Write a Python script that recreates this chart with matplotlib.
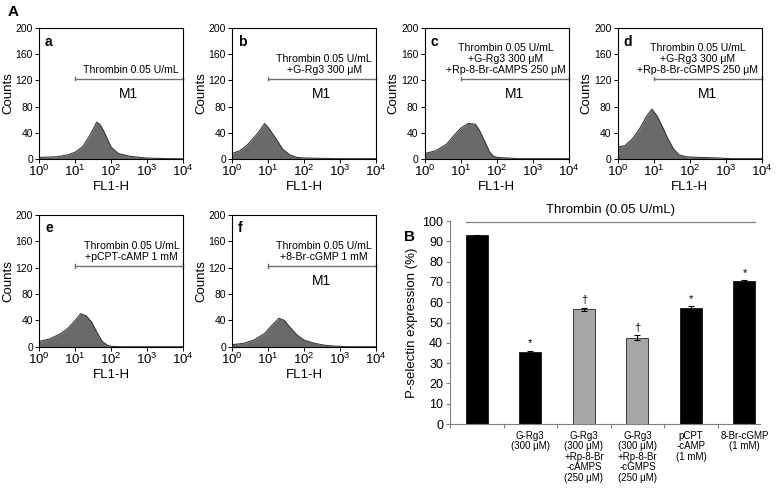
import numpy as np
import matplotlib
matplotlib.use("Agg")
import matplotlib.pyplot as plt
from matplotlib.ticker import FixedLocator, NullLocator, NullFormatter

plt.rcParams['font.family'] = ['Liberation Sans', 'DejaVu Sans']
plt.rcParams['mathtext.fontset'] = 'custom'
plt.rcParams['mathtext.rm'] = 'Liberation Sans'

# histogram readings: log10(FL1-H) positions and counts per panel
hist_a_x = [0, 0.3, 0.5, 0.8, 1.0, 1.2, 1.3, 1.4, 1.5, 1.6, 1.7, 1.8, 1.9, 2.0, 2.2, 2.5, 2.8, 3.0, 3.3, 3.6, 4.0]
hist_a_y = [2, 2.5, 3, 6, 10, 18, 26, 35, 45, 56, 52, 42, 30, 18, 8, 4, 2, 1, 0.5, 0, 0]
hist_b_x = [0, 0.2, 0.4, 0.6, 0.75, 0.9, 1.0, 1.1, 1.25, 1.4, 1.6, 1.8, 2.0, 2.5, 3.0, 4.0]
hist_b_y = [8, 12, 20, 32, 42, 54, 48, 40, 28, 15, 6, 2, 1, 0.5, 0, 0]
hist_c_x = [0, 0.3, 0.6, 0.8, 1.0, 1.2, 1.4, 1.5, 1.65, 1.8, 1.9, 2.0, 2.3, 2.6, 4.0]
hist_c_y = [8, 12, 22, 35, 47, 54, 53, 45, 28, 10, 4, 2, 1, 0, 0]
hist_d_x = [0, 0.2, 0.4, 0.6, 0.8, 0.95, 1.1, 1.25, 1.4, 1.55, 1.7, 1.9, 2.2, 2.6, 3.0, 3.2, 4.0]
hist_d_y = [18, 20, 30, 45, 65, 76, 65, 48, 30, 15, 6, 3, 2, 1.5, 0.5, 0, 0]
hist_e_x = [0, 0.3, 0.6, 0.8, 1.0, 1.15, 1.3, 1.45, 1.6, 1.75, 1.9, 2.0, 2.3, 4.0]
hist_e_y = [8, 12, 20, 28, 40, 50, 47, 38, 22, 8, 2, 0.5, 0, 0]
hist_f_x = [0, 0.3, 0.6, 0.9, 1.1, 1.3, 1.45, 1.6, 1.8, 2.0, 2.3, 2.6, 3.0, 3.2, 4.0]
hist_f_y = [3, 5, 10, 20, 32, 43, 40, 30, 18, 10, 5, 2, 0.5, 0, 0]

panel_letters = ['a', 'b', 'c', 'd', 'e', 'f']
panel_texts = [
    "Thrombin 0.05 U/mL",
    "Thrombin 0.05 U/mL\n+G-Rg3 300 μM",
    "Thrombin 0.05 U/mL\n+G-Rg3 300 μM\n+Rp-8-Br-cAMPS 250 μM",
    "Thrombin 0.05 U/mL\n+G-Rg3 300 μM\n+Rp-8-Br-cGMPS 250 μM",
    "Thrombin 0.05 U/mL\n+pCPT-cAMP 1 mM",
    "Thrombin 0.05 U/mL\n+8-Br-cGMP 1 mM",
]
show_m1 = [True, True, True, True, False, True]

# bar chart data
bar_values = [93.0, 35.5, 56.5, 42.5, 57.0, 70.3]
bar_errors = [0.3, 0.7, 0.7, 1.3, 1.0, 0.6]
bar_colors = ['black', 'black', '#a6a6a6', '#a6a6a6', 'black', 'black']
bar_marks = ['', '*', '†', '†', '*', '*']
bar_labels = ['', 'G-Rg3\n(300 μM)', 'G-Rg3\n(300 μM)\n+Rp-8-Br\n-cAMPS\n(250 μM)',
              'G-Rg3\n(300 μM)\n+Rp-8-Br\n-cGMPS\n(250 μM)', 'pCPT\n-cAMP\n(1 mM)', '8-Br-cGMP\n(1 mM)']

fig = plt.figure(figsize=(7.78, 4.9), dpi=100)

W = 778.0
H = 490.0

def fig_rect(left, top, right, bottom):
    return [left / W, 1 - bottom / H, (right - left) / W, (bottom - top) / H]

hist_rects = [
    fig_rect(39.3, 28.3, 182.7, 158.7),
    fig_rect(232.3, 28.3, 375.7, 158.7),
    fig_rect(424.8, 28.3, 569.0, 158.7),
    fig_rect(617.7, 28.3, 761.7, 158.7),
    fig_rect(39.3, 214.9, 183.0, 346.7),
    fig_rect(232.3, 214.9, 375.7, 346.7),
]
hist_x = [hist_a_x, hist_b_x, hist_c_x, hist_d_x, hist_e_x, hist_f_x]
hist_y = [hist_a_y, hist_b_y, hist_c_y, hist_d_y, hist_e_y, hist_f_y]

for i, rect in enumerate(hist_rects):
    ax = fig.add_axes(rect)
    xs = 10 ** np.array(hist_x[i], dtype=float)
    ax.fill_between(xs, hist_y[i], 0, color='#6a6a6a', lw=0)
    ax.plot(xs, hist_y[i], color='#3a3a3a', lw=0.8)
    ax.set_xscale('log')
    ax.set_xlim(1, 1e4)
    ax.set_ylim(0, 200)
    ax.xaxis.set_major_locator(FixedLocator([1, 10, 100, 1000, 10000]))
    ax.xaxis.set_minor_locator(NullLocator())
    ax.xaxis.set_minor_formatter(NullFormatter())
    ax.set_yticks([0, 40, 80, 120, 160, 200])
    ax.tick_params(axis='x', direction='out', length=3, width=0.7, labelsize=9.5, pad=1)
    ax.tick_params(axis='y', direction='out', length=3, width=0.7, labelsize=7.5, pad=1.5)
    for s in ax.spines.values():
        s.set_linewidth(0.8)
    ax.set_xlabel('FL1-H', fontsize=9.5, labelpad=1)
    ax.set_ylabel('Counts', fontsize=9.5, labelpad=1)
    ax.text(0.04, 0.95, panel_letters[i], transform=ax.transAxes, fontsize=10,
            fontweight='bold', va='top', ha='left')
    # M1 marker
    ax.plot([10, 1e4], [123, 123], color='#707070', lw=1.0, clip_on=False)
    ax.plot([10, 10], [120, 126], color='#707070', lw=1.0)
    ax.plot([1e4, 1e4], [120, 126], color='#707070', lw=1.0, clip_on=False)
    if show_m1[i]:
        ax.text(10 ** 2.5, 99, 'M1', fontsize=10, ha='center', va='center')
    ax.text(10 ** 3.9, 128, panel_texts[i], fontsize=7.6, ha='right', va='bottom',
            multialignment='center', linespacing=1.15)

fig.text(8 / W, 1 - 12 / H, 'A', fontsize=11, fontweight='bold', ha='left', va='center')
fig.text(404 / W, 1 - 237 / H, 'B', fontsize=11, fontweight='bold', ha='left', va='center')

# panel B
axb = fig.add_axes(fig_rect(450, 221, 760, 424))
xpos = np.arange(len(bar_values))
axb.bar(xpos, bar_values, width=0.41, color=bar_colors, edgecolor='black', linewidth=0.5,
        yerr=bar_errors, capsize=2.5, error_kw=dict(lw=0.8, capthick=0.8, ecolor='black'))
for x, v, e, m in zip(xpos, bar_values, bar_errors, bar_marks):
    if m:
        axb.text(x, v + e + 1.2, m, fontsize=8, ha='center', va='bottom')
axb.set_xlim(-0.5, 5.29)
axb.set_ylim(0, 100)
axb.set_yticks(np.arange(0, 101, 10))
axb.set_xticks(np.arange(-0.5, 5.0, 1.0))
axb.set_xticklabels([])
axb.set_xticks(xpos, minor=True)
axb.set_xticklabels(bar_labels, minor=True, fontsize=7, linespacing=1.05, va='top')
axb.tick_params(axis='x', which='major', direction='out', length=3, color='#808080')
axb.tick_params(axis='x', which='minor', length=0, pad=5)
axb.tick_params(axis='y', direction='out', length=3, color='#808080', labelsize=9, pad=2)
for side in ['top', 'right']:
    axb.spines[side].set_visible(False)
for side in ['left', 'bottom']:
    axb.spines[side].set_color('#808080')
    axb.spines[side].set_linewidth(0.8)
axb.set_ylabel('P-selectin expression (%)', fontsize=9.5, labelpad=3)
axb.plot([-0.2, 5.2], [99.6, 99.6], color='#808080', lw=0.9, clip_on=False)
axb.text(2.5, 102.5, 'Thrombin (0.05 U/mL)', fontsize=9.5, ha='center', va='bottom')

fig.savefig('out.png', dpi=100)
